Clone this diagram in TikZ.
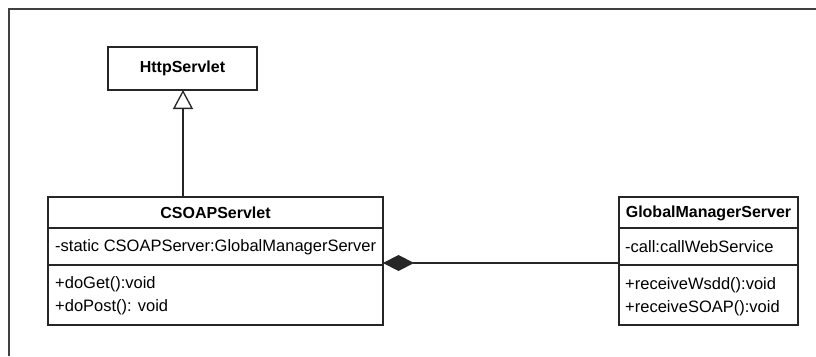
\documentclass[tikz,border=0pt]{standalone}
\usepackage{fontspec}
\setmainfont{Liberation Sans}
\usetikzlibrary{arrows.meta,calc}
\begin{document}
\begin{tikzpicture}[x=1pt,y=-1pt,
  classbox/.style={draw=black!85,line width=1.3pt,inner sep=0pt,outer sep=0pt,anchor=north west},
  divider/.style={draw=black!85,line width=1.3pt},
  frameline/.style={draw=black!75,line width=1.5pt},
  conn/.style={draw=black!85,line width=1.3pt},
  title/.style={font=\fontsize{16}{19}\selectfont\bfseries,inner sep=0pt},
  member/.style={font=\fontsize{16.5}{19}\selectfont,inner sep=0pt,anchor=west}]
\useasboundingbox[fill=white] (0,0) rectangle (816,356);

% diagram frame (top and left edges)
\draw[frameline] (9,356) -- (9,9) -- (816,9);

% HttpServlet
\node[classbox,minimum width=149pt,minimum height=43pt] (http) at (108,47) {};
\node[title] (httpname) at (http.center) {HttpServlet};

% CSOAPServlet
\node[classbox,minimum width=335pt,minimum height=128pt] (cs) at (48,197) {};
\draw[divider] (cs.west |- 0,228) -- (cs.east |- 0,228);
\draw[divider] (cs.west |- 0,265) -- (cs.east |- 0,265);
\node[title] (csname) at (215.5,213) {CSOAPServlet};
\node[member] (csattr) at (55,247) {-static CSOAPServer:GlobalManagerServer};
\node[member] (csget) at (55,284) {+doGet():void};
\node[member] (cspost) at (55,307) {+doPost(): void};

% GlobalManagerServer
\node[classbox,minimum width=179pt,minimum height=128pt] (gms) at (619,197) {};
\draw[divider] (gms.west |- 0,228) -- (gms.east |- 0,228);
\draw[divider] (gms.west |- 0,265) -- (gms.east |- 0,265);
\node[title] (gmsname) at (708.5,213) {GlobalManagerServer};
\node[member] (gmsattr) at (625,247) {-call:callWebService};
\node[member] (gmswsdd) at (625,285) {+receiveWsdd():void};
\node[member] (gmssoap) at (625,308) {+receiveSOAP():void};

% generalisation
\draw[conn,-{Triangle[open,length=19pt,width=20pt,line width=1.3pt]}] (cs.north -| 183,0) -- (http.south -| 183,0);

% composition
\draw[conn,{Diamond[length=31pt,width=16pt]}-] ($(cs.east)+(0,2)$) -- ($(gms.west)+(0,2)$);
\end{tikzpicture}
\end{document}
